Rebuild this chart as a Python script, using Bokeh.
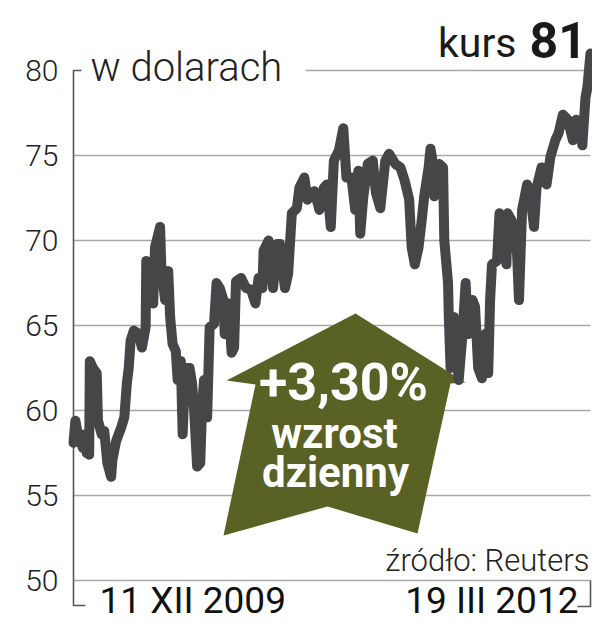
from bokeh.plotting import figure
from bokeh.models import Range1d, FixedTicker
from bokeh.core.properties import value
from bokeh.embed import file_html
from bokeh.resources import INLINE

# ---- data: days since 11 XII 2009, price in USD ----
day = [5, 8, 12, 20, 23, 26, 30, 31, 36, 42, 44, 50, 54, 59, 65, 67, 73, 81, 86, 90,
       93, 96, 101, 109, 114, 120, 121, 128, 132, 135, 143, 145, 151, 156, 159, 163, 168, 171, 176, 179,
       183, 190, 194, 197, 202, 207, 210, 213, 218, 222, 229, 233, 238, 244, 246, 252, 257, 261, 264, 272,
       280, 288, 295, 300, 306, 308, 316, 323, 330, 334, 342, 347, 353, 361, 365, 373, 378, 389, 397, 404,
       409, 415, 420, 428, 435, 440, 448, 454, 459, 462, 467, 474, 482, 487, 494, 502, 508, 518, 526, 533,
       540, 544, 549, 555, 560, 564, 571, 574, 578, 580, 588, 594, 596, 602, 603, 606, 611, 619, 625, 630,
       634, 641, 645, 650, 656, 661, 666, 669, 672, 680, 684, 692, 695, 697, 703, 708, 712, 715, 720, 728,
       734, 739, 743, 751, 759, 765, 773, 778, 785, 793, 801, 806, 813, 816, 821, 824, 829]
kurs = [58.1, 59.4, 58.6, 57.8, 58.6, 57.5, 57.4, 62.9, 62.5, 62.2, 59.4, 58.6, 58.8, 56.9, 56.1, 57.1, 58.2, 59.0, 59.6, 61.6,
        62.5, 64.1, 64.7, 64.5, 63.7, 64.9, 68.8, 68.4, 66.3, 69.6, 70.8, 68.4, 66.5, 68.2, 65.5, 63.9, 63.5, 61.8, 62.9, 58.6,
        62.5, 62.5, 61.6, 60.2, 56.7, 56.9, 60.2, 61.8, 59.6, 64.9, 65.1, 67.5, 67.2, 66.5, 64.5, 66.3, 63.4, 63.7, 67.6, 67.8,
        67.2, 67.1, 66.3, 67.8, 67.2, 69.4, 70.0, 67.2, 69.8, 69.8, 67.2, 68.0, 71.6, 71.9, 73.1, 73.7, 72.4, 72.9, 71.8, 73.1,
        73.3, 70.8, 74.7, 75.3, 76.6, 73.7, 73.7, 71.8, 74.1, 70.4, 72.6, 74.5, 74.7, 72.8, 71.9, 74.7, 75.1, 74.5, 74.3, 73.5,
        72.4, 69.6, 68.6, 69.6, 71.2, 72.6, 74.3, 75.4, 74.5, 72.6, 74.5, 74.3, 70.0, 67.5, 65.7, 62.5, 65.5, 61.8, 64.5, 67.5,
        64.5, 66.5, 66.1, 62.5, 61.9, 64.5, 62.2, 66.5, 68.6, 68.8, 71.6, 71.0, 68.6, 71.6, 71.2, 70.4, 69.2, 66.5, 71.8, 73.3,
        72.4, 70.8, 73.1, 74.3, 73.3, 74.9, 75.9, 76.3, 77.4, 77.1, 75.9, 77.1, 76.9, 75.6, 78.4, 79.0, 81.0]
y_ticks = [50, 55, 60, 65, 70, 75, 80]
date_labels = ["11 XII 2009", "19 III 2012"]
title_word = "kurs"
title_value = "81"
unit_text = "w dolarach"
source_text = "źródło: Reuters"
badge_lines = ["+3,30%", "wzrost", "dzienny"]

# ---- layout helpers (picture pixel -> data) ----
W, H = 592, 624
FL, FR = 66, W
XR0, XR1 = -6.16, 832.2
def X(px):
    return XR0 + (px - FL) * (XR1 - XR0) / (FR - FL)
def Y(py):
    return 80 - (py - 70) / 17.0

p = figure(width=W, height=H, output_backend="svg", toolbar_location=None,
           x_range=Range1d(XR0, XR1), y_range=Range1d(Y(H), Y(0)),
           x_axis_location=None, min_border_left=FL, min_border_right=0,
           min_border_top=0, min_border_bottom=0)
p.grid.visible = False
p.outline_line_color = None
p.background_fill_color = "white"

ax = p.yaxis[0]
ax.ticker = FixedTicker(ticks=y_ticks)
ax.axis_line_color = None
ax.major_tick_line_color = None
ax.minor_tick_line_color = None
ax.major_label_text_font = "Roboto Light"
ax.major_label_text_font_size = "30px"
ax.major_label_text_color = "#222222"
ax.major_label_standoff = 2

RIGHT = 590
GRID = "#a8a8a8"
gx0, gx1, gy = [], [], []
for t in y_ticks:
    if t == y_ticks[-1]:
        gx0.append(X(305)); gx1.append(X(RIGHT)); gy.append(t)
    else:
        gx0.append(X(73)); gx1.append(X(RIGHT)); gy.append(t)
p.segment(x0=gx0, y0=gy, x1=gx1, y1=gy, line_color=GRID, line_width=1.6)

# axis + brackets
p.line(x=[X(81), X(73), X(73), X(85)], y=[y_ticks[-1], y_ticks[-1], Y(605), Y(605)],
       line_color="#555555", line_width=1.6)
p.line(x=[X(RIGHT), X(RIGHT), X(RIGHT - 13)], y=[y_ticks[0], Y(606), Y(606)],
       line_color="#555555", line_width=1.6)

# arrow badge
arrow_px = [(355, 313), (465, 382), (450, 383), (417, 533), (327, 506),
            (223, 535), (255, 384), (226, 380)]
p.patch(x=[X(a) for a, b in arrow_px], y=[Y(b) for a, b in arrow_px],
        fill_color="#5a6125", line_color=None)

# price line
p.line(day, kurs, line_width=10, line_color="#464648", line_join="round", line_cap="round")

def txt(px, baseline, s, size, font="Roboto", style="normal", color="#222222", align="left"):
    mid = baseline - 0.36 * size
    p.text(x=[X(px)], y=[Y(mid)], text=[s], text_font=value(font), text_font_size=f"{size}px",
           text_font_style=style, text_color=color, text_align=align, text_baseline="middle")

txt(90, 81, unit_text, 40, font="Roboto Light")
txt(516, 57, title_word, 41, color="#1a1a1a", align="right")
txt(529, 57, title_value, 50, style="bold", color="#1a1a1a")
txt(589, 571, source_text, 31, font="Roboto Light", color="#222222", align="right")
txt(99, 613, date_labels[0], 37, color="#111111")
txt(578, 613, date_labels[1], 37, color="#111111", align="right")
txt(343, 401, badge_lines[0], 52, style="bold", color="white", align="center")
txt(334, 448, badge_lines[1], 42, style="bold", color="white", align="center")
txt(335, 487, badge_lines[2], 42, style="bold", color="white", align="center")

open("out.html", "w").write(file_html(p, INLINE))
